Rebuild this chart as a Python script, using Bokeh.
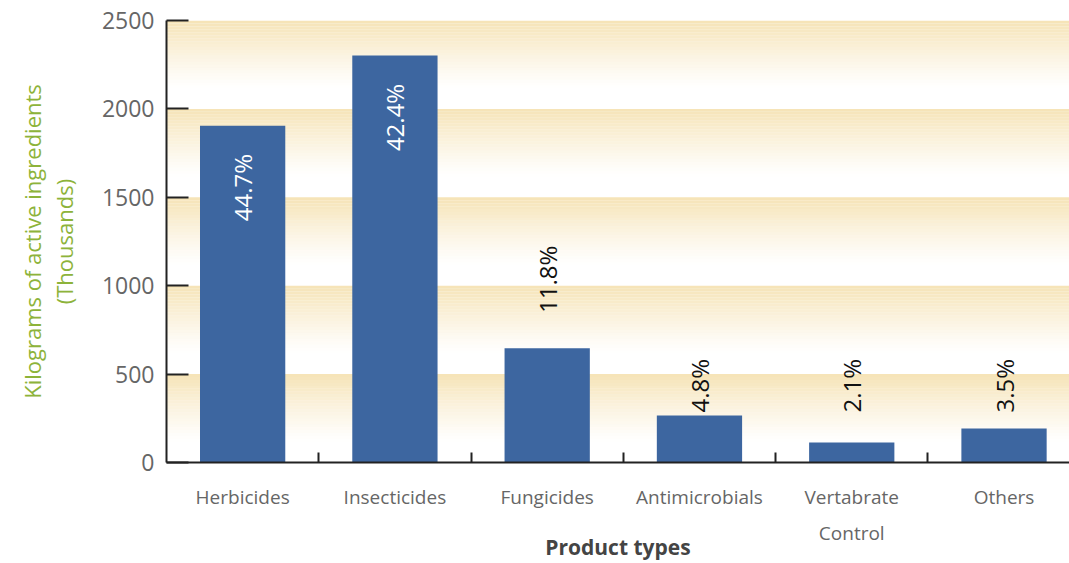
import math
from bokeh.plotting import figure
from bokeh.models import Range1d, FixedTicker, ColumnDataSource
from bokeh.core.properties import value
from bokeh.embed import file_html
from bokeh.resources import INLINE

# ---- data ----
categories = ["Herbicides", "Insecticides", "Fungicides", "Antimicrobials",
              "Vertabrate\nControl", "Others"]
amounts = [1905, 2302, 646, 266, 113, 193]          # thousands of kg
shares = ["44.7%", "42.4%", "11.8%", "4.8%", "2.1%", "3.5%"]
y_ticks = [0, 500, 1000, 1500, 2000, 2500]

BLUE = "#3d66a0"
TAN = "#f6e4b8"
FONT = "Open Sans"

n = len(categories)
centers = [i + 0.5 for i in range(n)]
bounds = [float(i) for i in range(1, n)]

p = figure(width=1069, height=563, output_backend="svg", toolbar_location=None,
           x_range=Range1d(0, 5.93), y_range=Range1d(0, y_ticks[-1]),
           min_border_left=166, min_border_right=0, min_border_top=20,
           min_border_bottom=0)
p.outline_line_color = None
p.grid.visible = False
p.background_fill_color = "white"
p.border_fill_color = "white"

# gradient bands (tan at each grid line fading to white downward)
steps = 30
bl, bt, ba = [], [], []
for k in range(len(y_ticks) - 1):
    lo, hi = y_ticks[k], y_ticks[k + 1]
    h = (hi - lo) / steps
    for s in range(steps):
        top = hi - s * h
        frac = s / steps
        a = max(0.0, 1.0 - frac / 0.75) ** 1.2
        bl.append(top - h)
        bt.append(top)
        ba.append(a)
p.quad(left=0, right=7, bottom=bl, top=bt, fill_color=TAN, fill_alpha=ba,
       line_color=None)

# bars
src = ColumnDataSource(dict(x=centers, top=amounts))
p.vbar(x="x", top="top", width=0.56, source=src, fill_color=BLUE,
       line_color=None)

# percentage labels
in_x, in_y, in_t = [], [], []
out_x, out_y, out_t = [], [], []
for c, v, s in zip(centers, amounts, shares):
    if v > 1000:
        in_x.append(c); in_y.append(v - 160); in_t.append(s)
    else:
        out_x.append(c); out_y.append(v + 200 if v > 500 else 283); out_t.append(s)
p.text(x=in_x, y=in_y, text=in_t, angle=math.pi / 2, text_align="right",
       text_baseline="middle", text_color="white", text_font_size="24px",
       text_font=value(FONT))
p.text(x=out_x, y=out_y, text=out_t, angle=math.pi / 2, text_align="left",
       text_baseline="middle", text_color="#111111", text_font_size="24px",
       text_font=value(FONT))

# x axis
xa = p.xaxis[0]
xa.ticker = FixedTicker(ticks=centers, minor_ticks=bounds)
xa.major_label_overrides = {c: lab for c, lab in zip(centers, categories)}
xa.major_tick_line_color = None
xa.minor_tick_in = 10
xa.minor_tick_out = 0
xa.minor_tick_line_color = "#222222"
xa.minor_tick_line_width = 2
xa.axis_line_color = "#222222"
xa.axis_line_width = 2
xa.major_label_standoff = 15
xa.major_label_text_font = FONT
xa.major_label_text_font_size = "19px"
xa.major_label_text_line_height = 1.4
xa.major_label_text_color = "#666666"
xa.axis_label = "Product types"
xa.axis_label_text_font = FONT
xa.axis_label_text_font_size = "21px"
xa.axis_label_text_font_style = "bold"
xa.axis_label_text_color = "#444444"
xa.axis_label_standoff = -16

# y axis
ya = p.yaxis[0]
ya.ticker = FixedTicker(ticks=y_ticks)
ya.major_tick_in = 22
ya.major_tick_out = 0
ya.major_tick_line_width = 2
ya.major_tick_line_color = "#222222"
ya.minor_tick_line_color = None
ya.axis_line_color = "#222222"
ya.axis_line_width = 2
ya.major_label_standoff = 12
ya.major_label_text_font = FONT
ya.major_label_text_font_size = "23px"
ya.major_label_text_color = "#666666"
ya.axis_label = "Kilograms of active ingredients\n(Thousands)"
ya.axis_label_text_font = FONT
ya.axis_label_text_font_size = "22px"
ya.axis_label_text_line_height = 1.05
ya.axis_label_text_font_style = "normal"
ya.axis_label_text_color = "#8db33a"
ya.axis_label_standoff = 20

open("out.html", "w").write(file_html(p, INLINE))
